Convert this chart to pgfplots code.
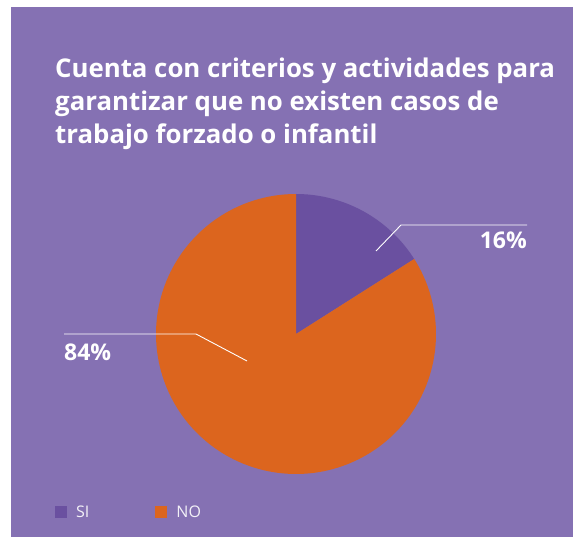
\documentclass[border=0pt]{standalone}
\usepackage{pgfplots}
\pgfplotsset{compat=1.18}
\usepackage{fontspec}
\setmainfont{Open Sans}
\definecolor{bgcol}{HTML}{8571B3}
\definecolor{sicol}{HTML}{6A50A0}
\definecolor{nocol}{HTML}{DC651E}
\begin{document}
\begin{tikzpicture}
% pie values (percent)
\def\vSI{16}
\def\vNO{84}
\pgfmathsetmacro{\aSI}{3.6*\vSI}
\pgfmathsetmacro{\aEnd}{3.6*(\vSI+\vNO)}
\begin{axis}[
  scale only axis, width=573pt, height=537pt,
  xmin=0, xmax=573, ymin=0, ymax=537, y dir=reverse,
  hide axis, clip=false,
  legend style={draw=none, fill=none, at={(axis cs:55,512)}, anchor=west,
    font=\fontsize{16}{18}\selectfont\mdseries, text=white!90!bgcol,
    legend columns=2, inner sep=0pt,
    /tikz/every odd column/.append style={column sep=7pt},
    /tikz/every even column/.append style={column sep=64pt}},
  legend cell align=left,
  legend image code/.code={\fill[#1] (0pt,-6pt) rectangle (12pt,6pt);},
]
\fill[bgcol] (axis cs:11,7) rectangle (axis cs:573,537);
\path (axis cs:0,0) rectangle (axis cs:573,537);
\addplot[fill=sicol, draw=none, domain=0:\aSI, samples=60, variable=\t]
  ({296+140*sin(t)},{334-140*cos(t)}) -- (axis cs:296,334) -- cycle;
\addlegendentry{SI}
\addplot[fill=nocol, draw=none, domain=\aSI:\aEnd, samples=200, variable=\t]
  ({296+140*sin(t)},{334-140*cos(t)}) -- (axis cs:296,334) -- cycle;
\addlegendentry{NO}
% leader lines
\draw[white, line width=0.9pt] (axis cs:376,251) -- (axis cs:401,225) -- (axis cs:527,225);
\draw[white, line width=0.9pt] (axis cs:247,361) -- (axis cs:196,334) -- (axis cs:64,334);
\node[anchor=base east, text=white, inner sep=0pt, font=\fontsize{23}{25}\selectfont\bfseries] at (axis cs:527,249) {16\%};
\node[anchor=base west, text=white, inner sep=0pt, font=\fontsize{23}{25}\selectfont\bfseries] at (axis cs:64,360) {84\%};
% title
\node[anchor=base west, text=white, inner sep=0pt, font=\fontsize{25.8}{30}\selectfont\bfseries] at (axis cs:55,78) {Cuenta con criterios y actividades para};
\node[anchor=base west, text=white, inner sep=0pt, font=\fontsize{25.8}{30}\selectfont\bfseries] at (axis cs:55,111) {garantizar que no existen casos de};
\node[anchor=base west, text=white, inner sep=0pt, font=\fontsize{25.8}{30}\selectfont\bfseries] at (axis cs:55,144) {trabajo forzado o infantil};
\end{axis}
\end{tikzpicture}
\end{document}
